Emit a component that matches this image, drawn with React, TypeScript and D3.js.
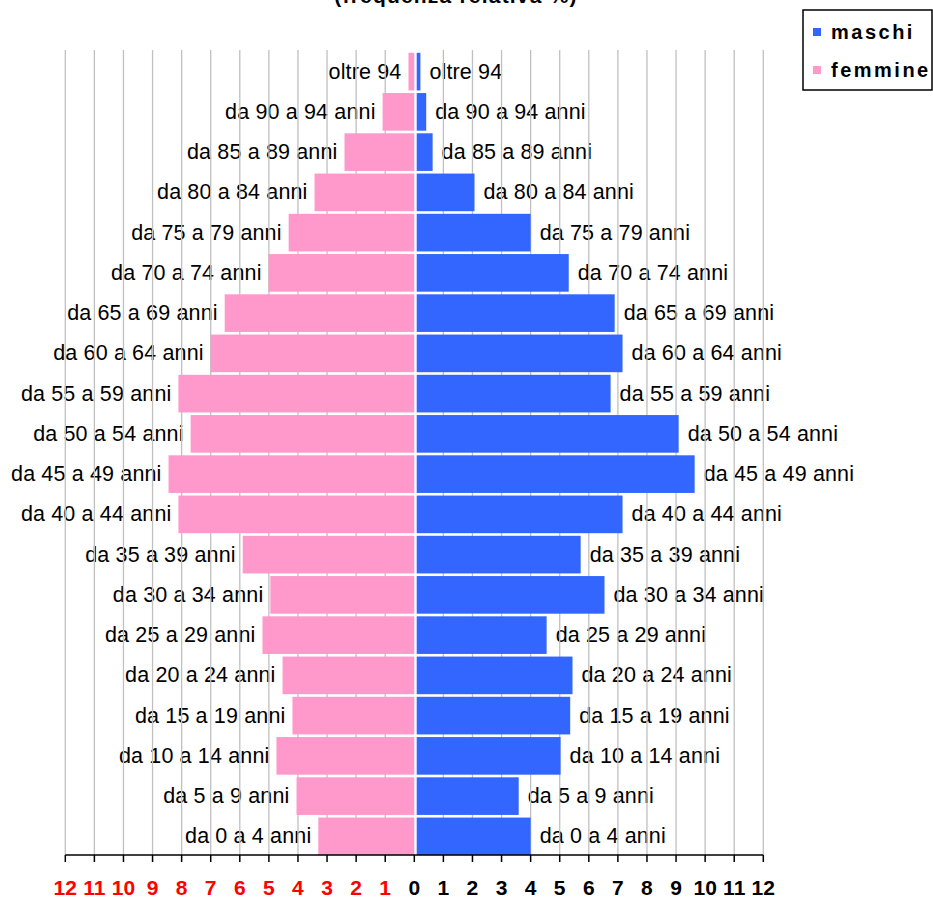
import React from "react";
import * as d3 from "d3";

const categories = [
  "oltre 94",
  "da 90 a 94 anni",
  "da 85 a 89 anni",
  "da 80 a 84 anni",
  "da 75 a 79 anni",
  "da 70 a 74 anni",
  "da 65 a 69 anni",
  "da 60 a 64 anni",
  "da 55 a 59 anni",
  "da 50 a 54 anni",
  "da 45 a 49 anni",
  "da 40 a 44 anni",
  "da 35 a 39 anni",
  "da 30 a 34 anni",
  "da 25 a 29 anni",
  "da 20 a 24 anni",
  "da 15 a 19 anni",
  "da 10 a 14 anni",
  "da 5 a 9 anni",
  "da 0 a 4 anni",
];

const femmine = [0.2, 1.09, 2.4, 3.43, 4.32, 5.01, 6.52, 7.0, 8.11, 7.69, 8.45, 8.11, 5.9, 4.95, 5.22, 4.53, 4.19, 4.74, 4.05, 3.3];
const maschi = [0.21, 0.41, 0.63, 2.07, 4.0, 5.31, 6.89, 7.16, 6.75, 9.09, 9.64, 7.16, 5.72, 6.54, 4.55, 5.44, 5.36, 5.03, 3.59, 4.0];

const ticks = d3.range(-12, 13);
const title = "(frequenza relativa %)";
const legendItems = ["maschi", "femmine"];

const BLUE = "#3366ff";
const PINK = "#ff99cc";
const FONT = "'Liberation Sans', Arial, Helvetica, sans-serif";

export default function App() {
  const W = 933;
  const H = 898;
  const x = d3.scaleLinear().domain([-12, 12]).range([65.3, 763.3]);
  const y = d3
    .scaleBand<string>()
    .domain(categories)
    .range([51.5, 856.5])
    .paddingInner(0.065)
    .paddingOuter(0.0325);
  const x0 = x(0);
  const axisY = 855;
  const gap = 2.4;

  return (
    <svg
      width={W}
      height={H}
      style={{ position: "absolute", left: 0, top: 0, background: "#fff" }}
      fontFamily={FONT}
    >
      <rect x={0} y={0} width={W} height={H} fill="#fff" />
      {/* title (clipped at top, as in the reference) */}
      <text
        x={456}
        y={3}
        textAnchor="middle"
        fontWeight="bold"
        fontSize={21}
        letterSpacing={1.2}
        fill="#000"
      >
        {title}
      </text>

      {/* category labels */}
      {categories.map((c, i) => {
        const cy = (y(c) as number) + y.bandwidth() / 2 + 7;
        return (
          <g key={"lab" + c}>
            <text x={x(-femmine[i]) - 7} y={cy} textAnchor="end" fontSize={21.5} letterSpacing={0.15} fill="#000">
              {c}
            </text>
            <text x={x(maschi[i]) + 9} y={cy} textAnchor="start" fontSize={21.5} letterSpacing={0.15} fill="#000">
              {c}
            </text>
          </g>
        );
      })}

      {/* gridlines */}
      {ticks
        .filter((t) => t !== 0)
        .map((t) => (
          <line
            key={"g" + t}
            x1={x(t)}
            x2={x(t)}
            y1={50}
            y2={axisY}
            stroke="#c0c0c0"
            strokeWidth={1.3}
          />
        ))}

      {/* bars */}
      {categories.map((c, i) => (
        <g key={"bar" + c}>
          <rect
            x={x(-femmine[i])}
            y={y(c)}
            width={x0 - x(-femmine[i])}
            height={y.bandwidth()}
            fill={PINK}
          />
          <rect
            x={x0 + gap}
            y={y(c)}
            width={Math.max(0, x(maschi[i]) - x0 - gap)}
            height={y.bandwidth()}
            fill={BLUE}
          />
        </g>
      ))}

      {/* axis */}
      <line x1={x(-12)} x2={x(12)} y1={axisY} y2={axisY} stroke="#000" strokeWidth={1.5} />
      {ticks.map((t) => (
        <g key={"t" + t}>
          <line x1={x(t)} x2={x(t)} y1={axisY} y2={axisY + 7} stroke="#000" strokeWidth={1.5} />
          <text
            x={x(t)}
            y={895}
            textAnchor="middle"
            fontSize={21}
            fontWeight="bold"
            fill={t < 0 ? "#ff0000" : "#000"}
          >
            {Math.abs(t)}
          </text>
        </g>
      ))}

      {/* legend */}
      <rect x={803} y={10} width={129} height={80} fill="#fff" stroke="#000" strokeWidth={1.5} />
      {legendItems.map((name, i) => (
        <g key={name}>
          <rect x={813} y={28 + i * 38} width={8} height={8} fill={i === 0 ? BLUE : PINK} />
          <text
            x={831}
            y={38.5 + i * 38}
            fontSize={20}
            fontWeight="bold"
            letterSpacing={2.5}
            fill="#000"
          >
            {name}
          </text>
        </g>
      ))}
    </svg>
  );
}
